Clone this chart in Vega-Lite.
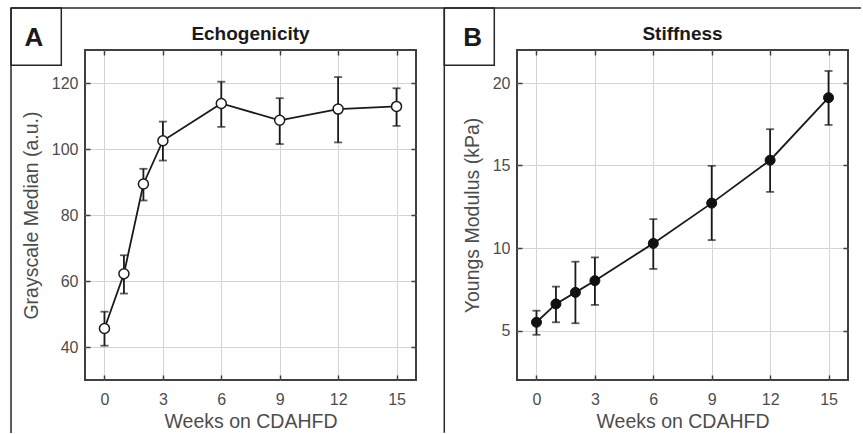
{
  "$schema": "https://vega.github.io/schema/vega-lite/v6.json",
  "background": "white",
  "padding": {"left": 9, "top": 6, "right": 0, "bottom": 0},
  "spacing": 101,
  "bounds": "flush",
  "config": {
    "font": "Liberation Sans",
    "view": {"stroke": "#404040", "strokeWidth": 2},
    "axis": {
      "domain": false,
      "labelFont": "Liberation Sans",
      "labelFontSize": 16,
      "labelColor": "#4d4d4d",
      "titleFont": "Liberation Sans",
      "titleFontSize": 19.5,
      "titleFontWeight": "normal",
      "titleColor": "#4d4d4d",
      "tickColor": "#404040",
      "tickWidth": 1.5,
      "tickSize": -5,
      "labelPadding": 12,
      "titlePadding": 9.5,
      "gridColor": "#d4d4d4",
      "gridWidth": 1,
      "gridOpacity": 1
    },
    "axisBottom": {"labelPadding": 16, "titlePadding": 5},
    "title": {"font": "Liberation Sans", "fontSize": 19, "fontWeight": "bold", "color": "#1a1a1a", "offset": -37}
  },
  "hconcat": [
    {
      "width": 331,
      "height": 330,
      "title": "Echogenicity",
      "data": {"values": [
        {"week": 0, "mean": 45.6, "lo": 40.4, "hi": 50.7},
        {"week": 1, "mean": 62.2, "lo": 56.2, "hi": 67.8},
        {"week": 2, "mean": 89.4, "lo": 84.4, "hi": 94.0},
        {"week": 3, "mean": 102.5, "lo": 96.5, "hi": 108.3},
        {"week": 6, "mean": 113.8, "lo": 106.7, "hi": 120.4},
        {"week": 9, "mean": 108.7, "lo": 101.5, "hi": 115.4},
        {"week": 12, "mean": 112.1, "lo": 102.0, "hi": 121.8},
        {"week": 15, "mean": 112.9, "lo": 107.0, "hi": 118.4}
      ]},
      "resolve": {"axis": {"x": "independent", "y": "independent"}},
      "layer": [
        {
          "data": {"values": [{}]},
          "mark": {"type": "rule", "clip": false, "color": "#262626", "strokeWidth": 1.5},
          "encoding": {
            "x": {"datum": -4.8, "type": "quantitative", "scale": {"domain": [-1, 16], "nice": false, "zero": false}, "axis": null},
            "y": {"datum": 142.73, "type": "quantitative", "scale": {"domain": [30, 130], "nice": false, "zero": false}, "axis": null},
            "y2": {"datum": 13.94}
          }
        },
        {
          "data": {"values": [{}]},
          "mark": {"type": "rule", "clip": false, "color": "#262626", "strokeWidth": 1.5},
          "encoding": {
            "x": {"datum": -4.8, "type": "quantitative", "axis": null},
            "x2": {"datum": 38.85},
            "y": {"datum": 142.73, "type": "quantitative", "axis": null}
          }
        },
        {
          "data": {"values": [{}]},
          "mark": {"type": "rect", "clip": false, "filled": false, "stroke": "#262626", "strokeWidth": 1.5},
          "encoding": {
            "x": {"datum": -4.8, "type": "quantitative", "axis": null},
            "x2": {"datum": -2.217},
            "y": {"datum": 142.73, "type": "quantitative", "axis": null},
            "y2": {"datum": 125.36}
          }
        },
        {
          "data": {"values": [{}]},
          "mark": {"type": "text", "clip": false, "text": "A", "fontSize": 26, "fontWeight": "bold", "color": "#1a1a1a", "align": "center", "baseline": "middle"},
          "encoding": {
            "x": {"datum": -3.62, "type": "quantitative", "axis": null},
            "y": {"datum": 133.73, "type": "quantitative", "axis": null}
          }
        },
        {
          "mark": {"type": "errorbar", "ticks": {"size": 8}, "thickness": 1.8, "color": "#1a1a1a"},
          "encoding": {
            "x": {"field": "week", "type": "quantitative", "title": "Weeks on CDAHFD", "axis": {"values": [0, 3, 6, 9, 12, 15], "grid": true}},
            "y": {"field": "lo", "type": "quantitative", "title": "Grayscale Median (a.u.)", "axis": {"values": [40, 60, 80, 100, 120], "grid": true}},
            "y2": {"field": "hi"}
          }
        },
        {
          "mark": {"type": "line", "color": "#1a1a1a", "strokeWidth": 1.8},
          "encoding": {
            "x": {"field": "week", "type": "quantitative", "axis": null},
            "y": {"field": "mean", "type": "quantitative", "axis": null}
          }
        },
        {
          "mark": {"type": "point", "filled": true, "fill": "white", "stroke": "#1a1a1a", "strokeWidth": 1.5, "size": 100, "opacity": 1},
          "encoding": {
            "x": {"field": "week", "type": "quantitative", "axis": {"orient": "top", "labels": false, "grid": false, "title": null, "values": [0, 3, 6, 9, 12, 15]}},
            "y": {"field": "mean", "type": "quantitative", "axis": {"orient": "right", "labels": false, "grid": false, "title": null, "values": [40, 60, 80, 100, 120]}}
          }
        }
      ]
    },
    {
      "width": 331,
      "height": 330,
      "title": "Stiffness",
      "data": {"values": [
        {"week": 0, "mean": 5.5, "lo": 4.74, "hi": 6.2},
        {"week": 1, "mean": 6.61, "lo": 5.5, "hi": 7.66},
        {"week": 2, "mean": 7.31, "lo": 5.44, "hi": 9.17},
        {"week": 3, "mean": 8.02, "lo": 6.55, "hi": 9.43},
        {"week": 6, "mean": 10.28, "lo": 8.73, "hi": 11.75},
        {"week": 9, "mean": 12.72, "lo": 10.48, "hi": 14.98},
        {"week": 12, "mean": 15.32, "lo": 13.4, "hi": 17.2},
        {"week": 15, "mean": 19.11, "lo": 17.46, "hi": 20.73}
      ]},
      "resolve": {"axis": {"x": "independent", "y": "independent"}},
      "layer": [
        {
          "data": {"values": [{}]},
          "mark": {"type": "rule", "clip": false, "color": "#262626", "strokeWidth": 1.5},
          "encoding": {
            "x": {"datum": -4.734, "type": "quantitative", "scale": {"domain": [-1, 16], "nice": false, "zero": false}, "axis": null},
            "y": {"datum": 24.545, "type": "quantitative", "scale": {"domain": [2, 22], "nice": false, "zero": false}, "axis": null},
            "y2": {"datum": -1.2}
          }
        },
        {
          "data": {"values": [{}]},
          "mark": {"type": "rect", "clip": false, "filled": false, "stroke": "#262626", "strokeWidth": 1.5},
          "encoding": {
            "x": {"datum": -4.734, "type": "quantitative", "axis": null},
            "x2": {"datum": -2.166},
            "y": {"datum": 24.545, "type": "quantitative", "axis": null},
            "y2": {"datum": 21.073}
          }
        },
        {
          "data": {"values": [{}]},
          "mark": {"type": "text", "clip": false, "text": "B", "fontSize": 26, "fontWeight": "bold", "color": "#1a1a1a", "align": "center", "baseline": "middle"},
          "encoding": {
            "x": {"datum": -3.275, "type": "quantitative", "axis": null},
            "y": {"datum": 22.745, "type": "quantitative", "axis": null}
          }
        },
        {
          "mark": {"type": "errorbar", "ticks": {"size": 8}, "thickness": 1.8, "color": "#1a1a1a"},
          "encoding": {
            "x": {"field": "week", "type": "quantitative", "title": "Weeks on CDAHFD", "axis": {"values": [0, 3, 6, 9, 12, 15], "grid": true}},
            "y": {"field": "lo", "type": "quantitative", "title": "Youngs Modulus (kPa)", "axis": {"values": [5, 10, 15, 20], "grid": true}},
            "y2": {"field": "hi"}
          }
        },
        {
          "mark": {"type": "line", "color": "#1a1a1a", "strokeWidth": 1.8},
          "encoding": {
            "x": {"field": "week", "type": "quantitative", "axis": null},
            "y": {"field": "mean", "type": "quantitative", "axis": null}
          }
        },
        {
          "mark": {"type": "point", "filled": true, "fill": "#111111", "stroke": "#111111", "strokeWidth": 1, "size": 100, "opacity": 1},
          "encoding": {
            "x": {"field": "week", "type": "quantitative", "axis": {"orient": "top", "labels": false, "grid": false, "title": null, "values": [0, 3, 6, 9, 12, 15]}},
            "y": {"field": "mean", "type": "quantitative", "axis": {"orient": "right", "labels": false, "grid": false, "title": null, "values": [5, 10, 15, 20]}}
          }
        }
      ]
    }
  ]
}
